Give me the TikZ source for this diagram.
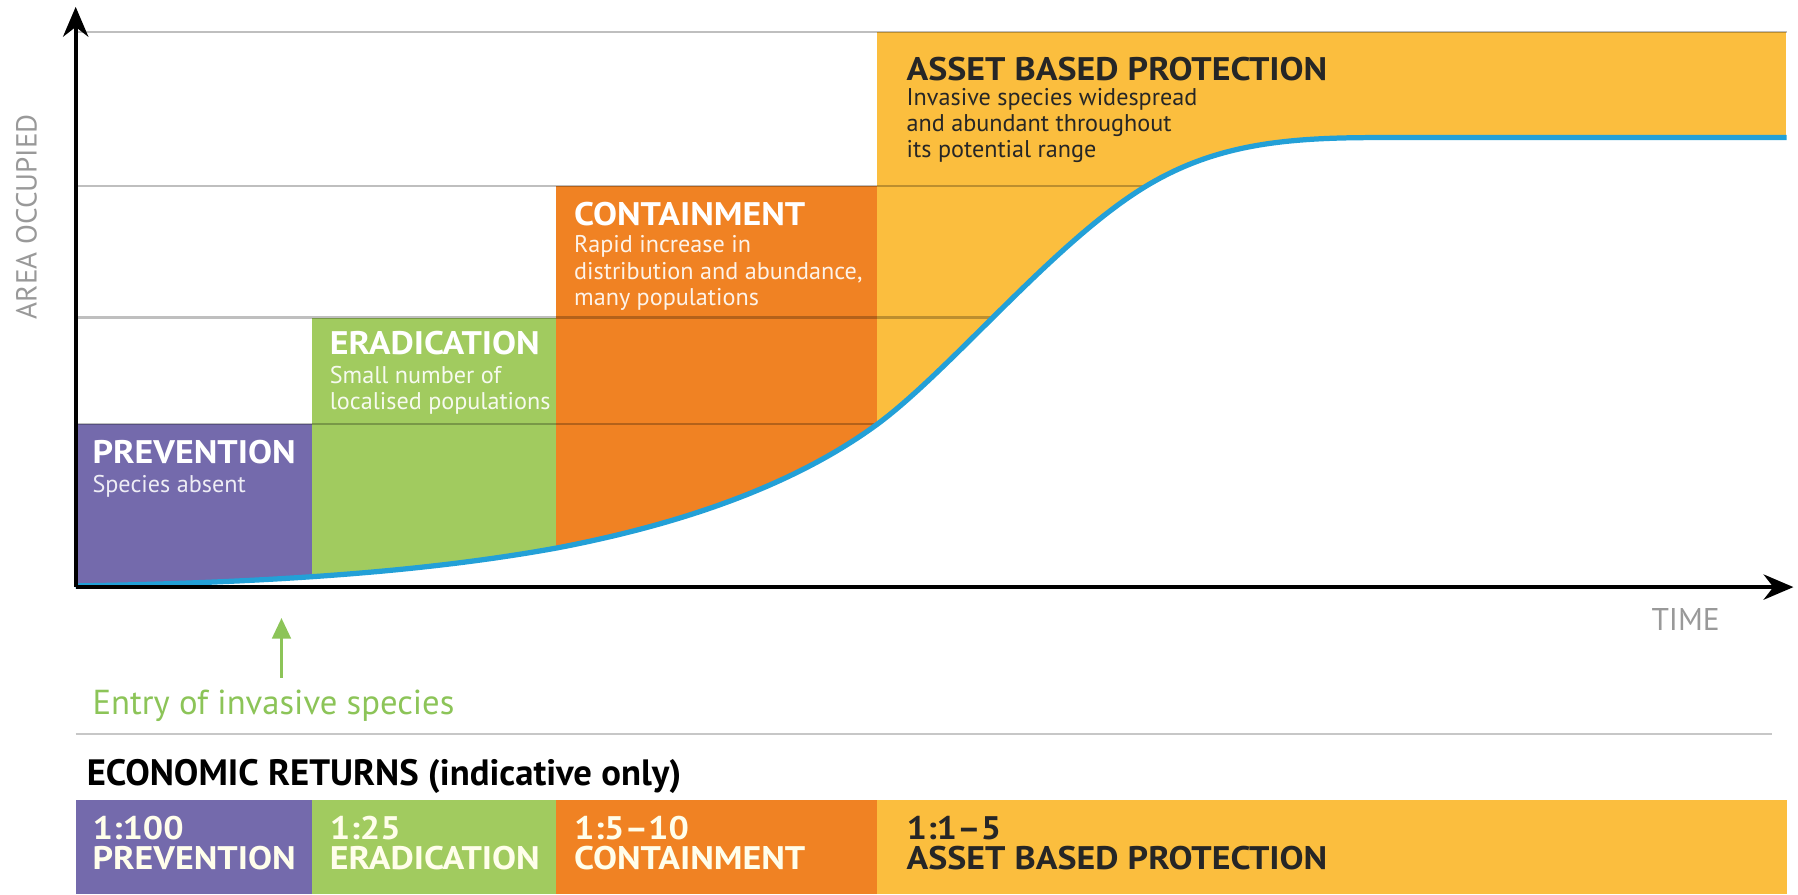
\documentclass[tikz,border=0pt]{standalone}
\usepackage{fontspec}
\setmainfont{PT Sans}
\newfontfamily\headfont[FakeStretch=1.1, Ligatures=TeX]{PT Sans}
\usetikzlibrary{arrows.meta}
\definecolor{prevpurple}{RGB}{116,106,172}
\definecolor{eradgreen}{RGB}{161,203,95}
\definecolor{contorange}{RGB}{240,130,35}
\definecolor{assetyellow}{RGB}{251,190,62}
\definecolor{curveblue}{RGB}{35,160,215}
\definecolor{entrygreen}{RGB}{140,196,88}
\def\growthcurve{(0.66,2.69) .. controls (2.50,2.72) and (3.80,2.83) .. (4.85,3.02) .. controls (5.90,3.22) and (6.90,3.55) .. (7.65,4.10) .. controls (8.30,4.58) and (9.20,5.70) .. (10.00,6.18) .. controls (10.60,6.54) and (11.20,6.60) .. (12.00,6.60) -- (15.58,6.60)}

\begin{document}
\begin{tikzpicture}[
	heading/.style={font=\headfont\fontsize{8.1}{9}\selectfont\bfseries, anchor=base west, inner sep=0pt},
	smalltext/.style={font=\fontsize{6}{6.5}\selectfont, align=left, anchor=north west, inner sep=0pt},
	bartext/.style={font=\headfont\fontsize{8.1}{7.5}\selectfont\bfseries, align=left, anchor=north west, inner sep=0pt},
	gridline/.style={black, opacity=0.25, line width=0.6pt},
	axisline/.style={line width=1pt, -{Stealth[length=2.6mm, width=2.2mm]}},
	]
		%%%%% START %%%%%
		\useasboundingbox (0, 0) rectangle (15.68, 7.80);
		
		\begin{scope}
			\clip \growthcurve -- (15.58, 7.52) -- (0.66, 7.52) -- cycle;
			\fill[prevpurple] (0.66, 2.5) rectangle (2.72, 4.10);
			\fill[eradgreen] (2.72, 2.5) rectangle (4.85, 5.03);
			\fill[contorange] (4.85, 2.5) rectangle (7.65, 6.18);
			\fill[assetyellow] (7.65, 2.5) rectangle (15.58, 7.52);
			\draw[gridline] (0.66, 4.10) -- (15.58, 4.10);
			\draw[gridline] (0.66, 5.03) -- (15.58, 5.03);
			\draw[gridline] (0.66, 6.18) -- (15.58, 6.18);
		\end{scope}
		\draw[gridline] (0.66, 7.52) -- (15.58, 7.52);
		
		\draw[curveblue, line width=1.3pt] \growthcurve;
		
		\coordinate (origin) at (0.66, 2.68);
		\draw[axisline] (origin) -- (0.66, 7.74);
		\draw[axisline] (origin) -- (15.64, 2.68);
		
		\node[rotate=90, text=black!40, font=\fontsize{7.2}{8}\selectfont] (yaxis) at (0.23, 5.91) {AREA OCCUPIED};
		\node[text=black!40, font=\fontsize{7.8}{8}\selectfont, anchor=base] (xaxis) at (14.70, 2.30) {TIME};
		
		\node[heading, text=white] (prevhead) at (0.80, 3.76) {PREVENTION};
		\node[smalltext, text=white!88!prevpurple] (prevtext) at (0.80, 3.66) {Species absent};
		
		\node[heading, text=white] (eradhead) at (2.87, 4.71) {ERADICATION};
		\node[smalltext, text=white!90!eradgreen] (eradtext) at (2.87, 4.61) {Small number of\\localised populations};
		
		\node[heading, text=white] (conthead) at (5.00, 5.83) {CONTAINMENT};
		\node[smalltext, text=white!90!contorange] (conttext) at (5.00, 5.75) {Rapid increase in\\distribution and abundance,\\many populations};
		
		\node[heading, text=black!85] (assethead) at (7.90, 7.10) {ASSET BASED PROTECTION};
		\node[smalltext, text=black!85] (assettext) at (7.90, 7.04) {Invasive species widespread\\and abundant throughout\\its potential range};
		
		\node[text=entrygreen, font=\fontsize{8.6}{9}\selectfont, anchor=base west, inner sep=0pt] (entry) at (0.80, 1.57) {Entry of invasive species};
		\draw[entrygreen, line width=0.9pt, -{Triangle[length=1.8mm, width=1.6mm]}] ([xshift=0.7mm, yshift=1.0mm]entry.north) -- ++(0, 0.52);
		
		\draw[black!22, line width=0.6pt] (0.66, 1.40) -- (15.45, 1.40);
		\node[font=\fontsize{9.1}{10}\selectfont\bfseries, anchor=base west, inner sep=0pt] (returns) at (0.75, 0.95) {ECONOMIC RETURNS (indicative only)};
		
		\fill[prevpurple] (0.66, 0) rectangle (2.72, 0.82);
		\fill[eradgreen] (2.72, 0) rectangle (4.85, 0.82);
		\fill[contorange] (4.85, 0) rectangle (7.65, 0.82);
		\fill[assetyellow] (7.65, 0) rectangle (15.58, 0.82);
		\node[bartext, text=white!92!yellow] (prevret) at (0.80, 0.69) {1:100\\PREVENTION};
		\node[bartext, text=white!92!yellow] (eradret) at (2.87, 0.69) {1:25\\ERADICATION};
		\node[bartext, text=white!92!yellow] (contret) at (5.00, 0.69) {1:5–10\\CONTAINMENT};
		\node[bartext, text=black!85] (assetret) at (7.90, 0.69) {1:1–5\\ASSET BASED PROTECTION};
		
		%%%%% END %%%%%
	\end{tikzpicture}
\end{document}
